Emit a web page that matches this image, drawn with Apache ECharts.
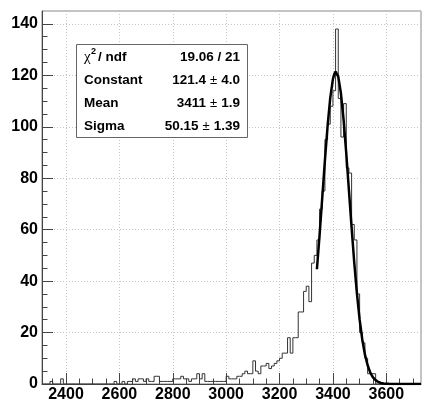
<!DOCTYPE html>
<html>
<head>
<meta charset="utf-8">
<script src="https://cdn.jsdelivr.net/npm/echarts@6/dist/echarts.min.js"></script>
<style>
  html, body { margin: 0; padding: 0; background: #fff; }
  #chart { width: 422px; height: 403px; }
</style>
</head>
<body>
<div id="chart"></div>
<script>
// histogram: fixed 10-wide bins starting at HIST_MIN
const HIST_MIN = 2310
const HIST_MAX = 3730
const BIN_WIDTH = 10
const counts = [
  0, 0, 0, 1, 0, 0, 0, 2, 0, 0,
  0, 0, 0, 0, 0, 0, 0, 0, 0, 0,
  0, 0, 0, 0, 0, 0, 0, 1, 0, 0,
  1, 0, 1, 1, 2, 1, 2, 2, 1, 2,
  1, 1, 3, 3, 1, 1, 1, 1, 1, 2,
  2, 2, 3, 2, 2, 1, 2, 2, 4, 2,
  4, 1, 1, 1, 1, 1, 1, 1, 1, 3,
  2, 2, 2, 3, 3, 4, 5, 4, 4, 9,
  5, 4, 7, 7, 8, 6, 7, 8, 9, 10,
  12, 12, 18, 12, 18, 18, 28, 28, 36, 38,
  32, 47, 50, 56, 68, 75, 95, 101, 108, 114,
  138, 111, 96, 109, 84, 82, 62, 56, 35, 20,
  16, 10, 4, 4, 4, 0, 0, 0, 0, 0,
  0, 0, 0, 0, 0, 0, 0, 0, 0, 0, 0, 0
]

// gaussian fit curve
const fitX = [3340, 3350, 3360, 3370, 3380, 3390, 3400, 3405, 3410, 3415, 3420, 3430, 3440, 3450,
  3460, 3470, 3480, 3490, 3500, 3510, 3520, 3530, 3540, 3550, 3560, 3570, 3580, 3590, 3600,
  3610, 3620, 3730]
const fitY = [44.6, 57.9, 72.4, 86.9, 100.3, 111.2, 118.5, 120.5, 121.4, 121.0, 119.5, 113.0, 102.7, 89.7,
  75.3, 60.8, 47.1, 35.1, 25.1, 17.3, 11.4, 7.3, 4.4, 2.6, 1.5, 0.8, 0.4, 0.2, 0.1,
  0.05, 0.02, 0]

// small ticks
const xMinorTicks = [2350, 2400, 2450, 2500, 2550, 2600, 2650, 2700, 2750, 2800, 2850, 2900, 2950,
  3000, 3050, 3100, 3150, 3200, 3250, 3300, 3350, 3400, 3450, 3500, 3550, 3600, 3650, 3700]
const yMinorTicks = [5, 10, 15, 20, 25, 30, 35, 40, 45, 50, 55, 60, 65, 70, 75, 80, 85, 90, 95,
  100, 105, 110, 115, 120, 125, 130, 135, 140]

// stats box
const statNames = ['Constant', 'Mean', 'Sigma']
const statValues = ['121.4', '3411', '50.15']
const statErrors = ['4.0', '1.9', '1.39']
const chiNdf = '19.06 / 21'

const histData = counts.map((c, i) => [HIST_MIN + i * BIN_WIDTH, c])
histData.push([HIST_MIN + counts.length * BIN_WIDTH, counts[counts.length - 1]])
const fitData = fitX.map((x, i) => [x, fitY[i]])

const FONT = '"Liberation Sans", Arial, sans-serif'
const labelStyle = { fontFamily: FONT, fontWeight: 'bold', fontSize: 16, color: '#000',
  formatter: v => String(v) }
const gridLine = { show: true, lineStyle: { color: '#c4c4c4', width: 1, type: [1, 2] } }
const axisColor = '#444'

const rowY = [80.5, 103.5, 126]
const graphics = [
  { type: 'rect', z: 100, shape: { x: 76.5, y: 44.5, width: 171, height: 93 },
    style: { fill: '#fff', stroke: '#666', lineWidth: 1 } },
  { type: 'text', z: 101, x: 84, y: 57,
    style: { text: 'χ', font: '15px "Liberation Serif", serif', fill: '#000', align: 'left', verticalAlign: 'middle' } },
  { type: 'text', z: 101, x: 91, y: 52,
    style: { text: '2', font: 'bold 9px ' + FONT, fill: '#000', align: 'left', verticalAlign: 'middle' } },
  { type: 'text', z: 101, x: 98, y: 57,
    style: { text: '/ ndf', font: 'bold 13.5px ' + FONT, fill: '#000', align: 'left', verticalAlign: 'middle' } },
  { type: 'text', z: 101, x: 240, y: 57,
    style: { text: chiNdf, font: 'bold 13.5px ' + FONT, fill: '#000', align: 'right', verticalAlign: 'middle' } }
]
statNames.forEach((name, i) => {
  graphics.push({ type: 'text', z: 101, x: 84, y: rowY[i],
    style: { text: name, font: 'bold 13.5px ' + FONT, fill: '#000', align: 'left', verticalAlign: 'middle' } })
  graphics.push({ type: 'text', z: 101, x: 240, y: rowY[i],
    style: {
      text: '{b|' + statValues[i] + '}{p|±}{b|' + statErrors[i] + '}',
      align: 'right', verticalAlign: 'middle',
      rich: {
        b: { font: 'bold 13.5px ' + FONT, fill: '#000' },
        p: { font: '13px ' + FONT, fill: '#000', padding: [0, 4, 0, 4] }
      }
    } })
})

const chart = echarts.init(document.getElementById('chart'))
chart.setOption({
  animation: false,
  grid: { left: 42, right: 1, top: 11, bottom: 19, show: true, borderColor: '#888', borderWidth: 1,
    outerBoundsMode: 'none' },
  xAxis: [
    {
      type: 'value', min: HIST_MIN, max: HIST_MAX, splitNumber: 7, position: 'bottom',
      axisLine: { show: true, onZero: false, lineStyle: { color: axisColor } },
      axisTick: { show: true, inside: true, length: 11, lineStyle: { color: axisColor } },
      axisLabel: { ...labelStyle, margin: 3, showMinLabel: false, showMaxLabel: false },
      splitLine: gridLine
    },
    {
      type: 'value', min: HIST_MIN, max: HIST_MAX, position: 'bottom',
      axisLine: { show: false },
      axisTick: { show: true, inside: true, length: 5.5, customValues: xMinorTicks, lineStyle: { color: axisColor } },
      axisLabel: { show: false },
      splitLine: { show: false }
    }
  ],
  yAxis: [
    {
      type: 'value', min: 0, max: 145, splitNumber: 7, position: 'left',
      axisLine: { show: true, onZero: false, lineStyle: { color: axisColor } },
      axisTick: { show: true, inside: true, length: 11, lineStyle: { color: axisColor } },
      axisLabel: { ...labelStyle, margin: 4, showMaxLabel: false },
      splitLine: gridLine
    },
    {
      type: 'value', min: 0, max: 145, position: 'left',
      axisLine: { show: false },
      axisTick: { show: true, inside: true, length: 5.5, customValues: yMinorTicks, lineStyle: { color: axisColor } },
      axisLabel: { show: false },
      splitLine: { show: false }
    }
  ],
  series: [
    {
      name: 'hist', type: 'line', step: 'end', data: histData, showSymbol: false,
      lineStyle: { color: '#333', width: 1 }, z: 2
    },
    {
      name: 'fit', type: 'line', data: fitData, showSymbol: false,
      lineStyle: { color: '#000', width: 2.5 }, z: 3
    }
  ],
  graphic: graphics
})
</script>
</body>
</html>
